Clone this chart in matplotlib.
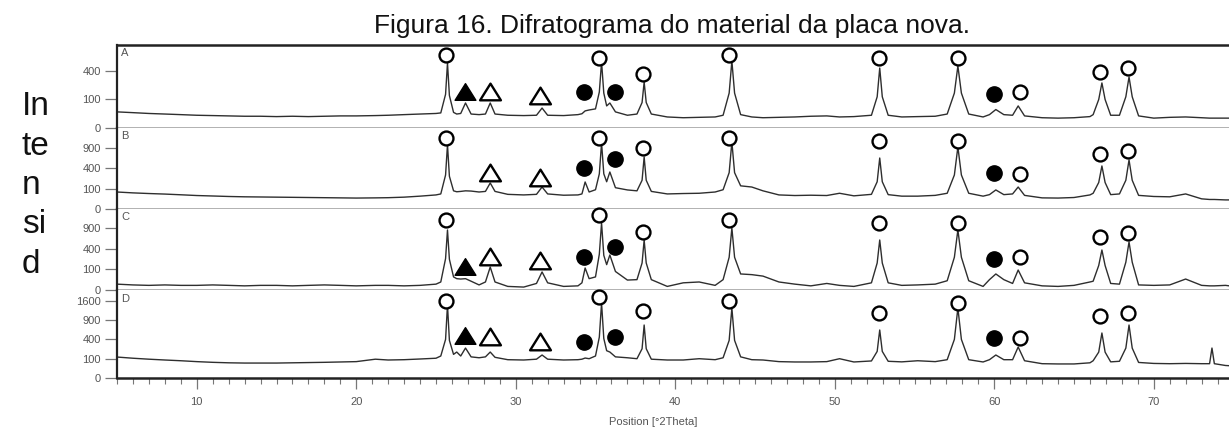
import matplotlib
matplotlib.use("Agg")
import matplotlib.pyplot as plt
import numpy as np
from matplotlib.path import Path
from matplotlib.ticker import FixedLocator, MultipleLocator

plt.rcParams["font.family"] = ["Liberation Sans", "DejaVu Sans"]

# 2theta vertices shared by the four scans (grouped by region)
two_theta = [
    5, 6, 7, 8, 9, 10, 11, 12, 13, 14,
    15, 16, 17, 18, 19, 20, 21.2, 22, 23, 24, 25,
    25.3, 25.6, 25.72, 25.84, 26.1,
    26.3, 26.55, 26.85, 27.2, 27.7,
    28.1, 28.4, 28.7, 29.5, 30.5,
    31.3, 31.65, 32.0, 33.0, 33.9,
    34.15, 34.35, 34.6,
    35.0, 35.24, 35.38, 35.52, 35.7, 35.9, 36.25, 37.0,
    37.6, 37.92, 38.05, 38.18, 38.5,
    39.5, 40.5, 41.5, 42.5,
    43.0, 43.38, 43.55, 43.72, 44.1,
    44.8, 45.5, 46.5, 47.5, 48.5, 49.5, 50.3, 51.2,
    52.3, 52.66, 52.82, 52.98, 53.35,
    54.2, 55.2, 56.3,
    57.05, 57.5, 57.72, 57.94, 58.4,
    59.3, 59.7, 60.1, 60.6,
    61.15, 61.5, 61.9,
    63, 64, 65, 66,
    66.2, 66.55, 66.75, 66.95, 67.3,
    67.85, 68.25, 68.45, 68.65, 69.05,
    70, 71, 72, 73,
    73.5, 73.65, 73.8, 74.5, 75,
]

counts_A = [
    32, 29, 26, 24, 22, 20, 19, 18, 17, 17,
    16, 17, 16, 17, 18, 18, 19, 20, 22, 24, 26,
    28, 140, 520, 130, 30,
    24, 26, 77, 24, 22,
    24, 77, 24, 20, 19,
    20, 49, 20, 19, 22,
    25, 36, 40,
    45, 160, 536, 150, 60, 77, 32, 20,
    24, 80, 260, 80, 24,
    15, 13, 14, 15,
    20, 150, 553, 150, 22,
    15, 13, 14, 15, 17, 18, 15, 16,
    20, 120, 443, 120, 20,
    15, 16, 17,
    24, 150, 473, 150, 24,
    15, 22, 42, 22,
    20, 60, 18,
    13, 12, 13, 16,
    22, 100, 250, 100, 20,
    20, 120, 320, 120, 18,
    12, 14, 15, 13,
    12, 12, 12, 12, 12,
]

counts_B = [
    70, 63, 58, 54, 49, 44, 41, 38, 36, 35,
    34, 33, 32, 31, 30, 29, 30, 31, 34, 40, 48,
    55, 280, 1000, 260, 80,
    72, 75, 80, 78, 70,
    75, 164, 75, 52, 48,
    52, 117, 55, 46, 48,
    55, 177, 70,
    90, 300, 1057, 300, 180, 332, 110, 88,
    80, 200, 656, 200, 75,
    55, 58, 60, 70,
    90, 320, 1090, 320, 130,
    117, 80, 48, 44, 46, 44, 60, 42,
    52, 180, 630, 180, 50,
    40, 40, 45,
    60, 280, 933, 280, 60,
    40, 50, 88, 50,
    55, 117, 45,
    30, 29, 32, 48,
    60, 170, 449, 170, 50,
    55, 200, 583, 200, 45,
    38, 36, 55, 25,
    22, 22, 22, 20, 20,
]

counts_C = [
    8, 6, 5, 6, 5, 5, 6, 5, 4, 5,
    5, 4, 5, 6, 5, 4, 5, 5, 4, 5, 8,
    15, 230, 840, 220, 40,
    30, 28, 30, 18, 6,
    15, 123, 15, 3, 2,
    10, 76, 12, 3, 4,
    12, 113, 30,
    40, 300, 1048, 280, 150, 286, 80, 23,
    25, 170, 583, 170, 25,
    3, 12, 15, 5,
    25, 250, 897, 250, 60,
    55, 45, 15, 8, 4, 10, 5, 3,
    12, 170, 583, 170, 12,
    5, 6, 8,
    20, 250, 840, 250, 20,
    3, 25, 60, 25,
    10, 93, 12,
    4, 3, 5, 15,
    18, 140, 373, 140, 10,
    8, 180, 538, 180, 6,
    5, 6, 28, 5,
    4, 4, 4, 5, 3,
]

counts_D = [
    118, 105, 95, 87, 80, 72, 66, 62, 60, 60,
    60, 62, 64, 66, 69, 72, 95, 87, 90, 97, 105,
    130, 400, 1430, 380, 150,
    181, 130, 241, 120, 110,
    120, 181, 115, 90, 87,
    95, 142, 95, 87, 90,
    95, 107, 100,
    130, 450, 1510, 420, 200, 181, 120, 110,
    100, 230, 754, 230, 95,
    87, 87, 100, 90,
    110, 380, 1315, 380, 120,
    90, 87, 72, 69, 69, 72, 100, 69,
    78, 190, 619, 190, 75,
    70, 80, 72,
    90, 400, 1315, 400, 90,
    69, 90, 142, 90,
    90, 258, 80,
    55, 53, 53, 62,
    80, 180, 544, 180, 70,
    75, 240, 754, 240, 65,
    57, 55, 57, 55,
    55, 241, 55, 42, 39,
]

# phase marks above the reflections
mark_pos = [25.6, 26.8, 28.4, 31.5, 34.3, 35.25, 36.25, 37.95, 43.4,
            52.8, 57.7, 60.0, 61.6, 66.6, 68.4]
mark_kind = ["open", "tri_fill", "tri", "tri", "dot", "open", "dot", "open", "open",
             "open", "open", "dot", "open", "open", "open"]
marks_A = [655, 160, 160, 126, 160, 603, 160, 359, 656, 603, 603, 142, 160, 386, 443]
marks_B = [1223, None, 314, 233, 408, 1223, 606, 903, 1223, 1122, 1122, 314, 297, 734, 816]
marks_C = [1143, 123, 254, 196, 254, 1313, 431, 785, 1143, 1048, 1048, 224, 254, 656, 758]
marks_D = [1592, 474, 451, 348, 348, 1761, 451, 1205, 1592, 1134, 1510, 430, 430, 1032, 1134]

panel_names = ["A", "B", "C", "D"]
panel_counts = [counts_A, counts_B, counts_C, counts_D]
panel_marks = [marks_A, marks_B, marks_C, marks_D]
panel_ymax = [848, 1590, 1530, 2080]
panel_yticks = [[0, 100, 400], [0, 100, 400, 900], [0, 100, 400, 900],
                [0, 100, 400, 900, 1600]]

tri = Path([(-1, -0.75), (1, -0.75), (0, 0.85), (-1, -0.75)],
           [Path.MOVETO, Path.LINETO, Path.LINETO, Path.CLOSEPOLY])
mark_style = {
    "open": dict(marker="o", ms=10, mfc="white", mec="black", mew=1.7),
    "dot": dict(marker="o", ms=11, mfc="black", mec="black", mew=1),
    "tri": dict(marker=tri, ms=15, mfc="white", mec="black", mew=1.7),
    "tri_fill": dict(marker=tri, ms=15, mfc="black", mec="black", mew=1),
}

W, H = 1229, 432
fig = plt.figure(figsize=(W / 100, H / 100), dpi=100)

# panel edges in pixels from the top
edges = [45, 128, 209, 290, 378]
x_left = 117 / W
x_width = (1233.5 - 117) / W

grey = "#555555"
frame = "#222222"
divider = "#9a9a9a"

def fwd(v):
    return np.sqrt(np.clip(v, 0, None))

def inv(v):
    return np.square(v)

for i, name in enumerate(panel_names):
    top, bot = edges[i], edges[i + 1]
    ax = fig.add_axes([x_left, 1 - bot / H, x_width, (bot - top) / H])
    ax.set_yscale("function", functions=(fwd, inv))
    ax.plot(two_theta, panel_counts[i], color="#2e2e2e", lw=1.0)

    for x, y, kind in zip(mark_pos, panel_marks[i], mark_kind):
        if y is None:
            continue
        ax.plot([x], [y], ls="none", clip_on=False, zorder=5, **mark_style[kind])

    ax.set_xlim(5, 75)
    ax.set_ylim(0, panel_ymax[i])
    ax.yaxis.set_major_locator(FixedLocator(panel_yticks[i]))
    ax.yaxis.set_minor_locator(FixedLocator([]))
    ax.set_yticklabels([str(t) for t in panel_yticks[i]])
    ax.tick_params(axis="y", direction="out", length=8.5, width=0.9, color="#777777",
                   labelsize=8, labelcolor=grey, pad=3)
    ax.text(0.004, 0.96, name, transform=ax.transAxes, ha="left", va="top",
            fontsize=8, color=grey)

    ax.spines["right"].set_visible(False)
    ax.spines["left"].set_color(frame)
    ax.spines["left"].set_linewidth(1.6)
    if i == 0:
        ax.spines["top"].set_color(frame)
        ax.spines["top"].set_linewidth(1.8)
    else:
        ax.spines["top"].set_visible(False)
    if i == 3:
        ax.spines["bottom"].set_color(frame)
        ax.spines["bottom"].set_linewidth(1.8)
        ax.xaxis.set_major_locator(MultipleLocator(10))
        ax.xaxis.set_minor_locator(MultipleLocator(1))
        ax.tick_params(axis="x", which="major", direction="out", length=8, width=0.9,
                       color="#777777", labelsize=8, labelcolor=grey, pad=6)
        ax.tick_params(axis="x", which="minor", direction="out", length=4, width=0.8,
                       color="#777777")
    else:
        ax.spines["bottom"].set_color(divider)
        ax.spines["bottom"].set_linewidth(1.8)
        ax.tick_params(axis="x", which="both", bottom=False, labelbottom=False)

fig.text(672 / W, 1 - 33 / H, "Figura 16. Difratograma do material da placa nova.",
         ha="center", va="baseline", fontsize=19, color="#111111")

fig.text(653 / W, 1 - 422 / H, "Position [°2Theta]", ha="center", va="center",
         fontsize=8, color=grey)

# vertical axis caption broken into syllables
for frag, base in zip(["In", "te", "n", "si", "d"], [115, 155, 194, 233, 273]):
    fig.text(22 / W, 1 - base / H, frag, ha="left", va="baseline", fontsize=24,
             color="#111111")

fig.savefig("out.png", dpi=100)
